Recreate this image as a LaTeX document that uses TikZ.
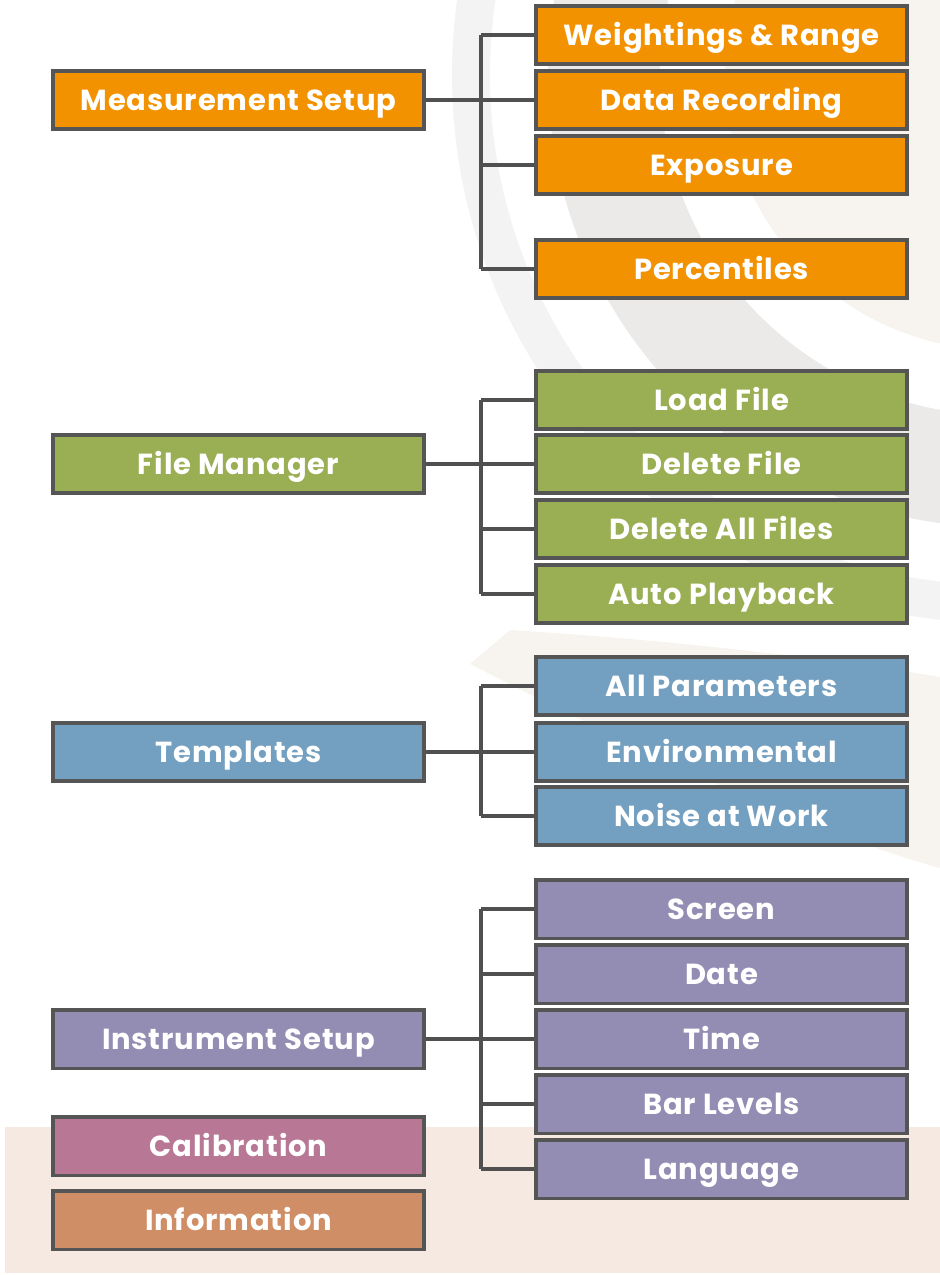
\documentclass[tikz,border=0pt]{standalone}
\usepackage{fontspec}
\setmainfont{Poppins}[LetterSpace=3]
\definecolor{cOrange}{HTML}{F39200}
\definecolor{cGreen}{HTML}{9AAE53}
\definecolor{cBlue}{HTML}{739FC0}
\definecolor{cPurple}{HTML}{938DB3}
\definecolor{cPink}{HTML}{B87794}
\definecolor{cBrown}{HTML}{D08E66}
\definecolor{cBorder}{HTML}{555555}
\definecolor{cLine}{HTML}{505050}
\definecolor{cBand}{HTML}{F5E9E2}
\definecolor{cLightGray}{HTML}{F3F3F3}
\definecolor{cDarkGray}{HTML}{EBEAE9}
\definecolor{cBeige}{HTML}{F7F4EF}
\tikzset{
  menubox/.style={draw=cBorder, line width=2pt, minimum width=7.42cm, minimum height=1.17cm,
    inner sep=0pt, text=white, font=\fontsize{16.5}{19}\selectfont\bfseries,
    text height=11.6pt, text depth=0pt},
  conn/.style={draw=cLine, line width=2.1pt},
}
\begin{document}
\begin{tikzpicture}[x=0.02cm, y=-0.02cm]
\useasboundingbox (0,0) rectangle (940,1275);
\begin{scope}
\clip (0,0) rectangle (940,1275);
% background decorative rings
\fill[cLightGray] (1000,75) circle[radius=548];
\fill[white] (1000,75) circle[radius=510];
\fill[cDarkGray] (1000,75) circle[radius=452];
\fill[white] (1000,75) circle[radius=340];
\fill[cBeige] (1000,75) circle[radius=275];
\fill[cBeige] (470,664) -- (510,630) .. controls (700,642) and (850,662) .. (940,677)
  -- (940,868) .. controls (800,830) and (600,730) .. (470,664) -- cycle;
% bottom band
\fill[cBand] (5,1127) rectangle (940,1273);
\end{scope}

% left column
\node[menubox, fill=cOrange] (ms) at (238.5,100) {Measurement Setup};
\node[menubox, fill=cGreen] (fm) at (238.5,464) {File Manager};
\node[menubox, fill=cBlue] (tp) at (238.5,752) {Templates};
\node[menubox, fill=cPurple] (is) at (238.5,1039) {Instrument Setup};
\node[menubox, fill=cPink] (cal) at (238.5,1146) {Calibration};
\node[menubox, fill=cBrown] (inf) at (238.5,1220) {Information};

% right column
\node[menubox, fill=cOrange] (wr) at (721.5,35) {Weightings \& Range};
\node[menubox, fill=cOrange] (dr) at (721.5,100) {Data Recording};
\node[menubox, fill=cOrange] (ex) at (721.5,165) {Exposure};
\node[menubox, fill=cOrange] (pc) at (721.5,269) {Percentiles};

\node[menubox, fill=cGreen] (lf) at (721.5,400) {Load File};
\node[menubox, fill=cGreen] (df) at (721.5,464) {Delete File};
\node[menubox, fill=cGreen] (da) at (721.5,529) {Delete All Files};
\node[menubox, fill=cGreen] (ap) at (721.5,594) {Auto Playback};

\node[menubox, fill=cBlue] (pa) at (721.5,686) {All Parameters};
\node[menubox, fill=cBlue] (en) at (721.5,752) {Environmental};
\node[menubox, fill=cBlue] (nw) at (721.5,816) {Noise at Work};

\node[menubox, fill=cPurple] (sc) at (721.5,909) {Screen};
\node[menubox, fill=cPurple] (dt) at (721.5,974) {Date};
\node[menubox, fill=cPurple] (tm) at (721.5,1039) {Time};
\node[menubox, fill=cPurple] (bl) at (721.5,1104) {Bar Levels};
\node[menubox, fill=cPurple] (lg) at (721.5,1169) {Language};

\coordinate (bus) at (481,0);

% connectors
\draw[conn] (ms.east) -- (ms.east -| bus);
\draw[conn] (wr.west -| bus) -- (pc.west -| bus);
\foreach \c in {wr,dr,ex,pc} \draw[conn] (\c.west -| bus) -- (\c.west);

\draw[conn] (fm.east) -- (fm.east -| bus);
\draw[conn] (lf.west -| bus) -- (ap.west -| bus);
\foreach \c in {lf,df,da,ap} \draw[conn] (\c.west -| bus) -- (\c.west);

\draw[conn] (tp.east) -- (tp.east -| bus);
\draw[conn] (pa.west -| bus) -- (nw.west -| bus);
\foreach \c in {pa,en,nw} \draw[conn] (\c.west -| bus) -- (\c.west);

\draw[conn] (is.east) -- (is.east -| bus);
\draw[conn] (sc.west -| bus) -- (lg.west -| bus);
\foreach \c in {sc,dt,tm,bl,lg} \draw[conn] (\c.west -| bus) -- (\c.west);
\end{tikzpicture}
\end{document}
